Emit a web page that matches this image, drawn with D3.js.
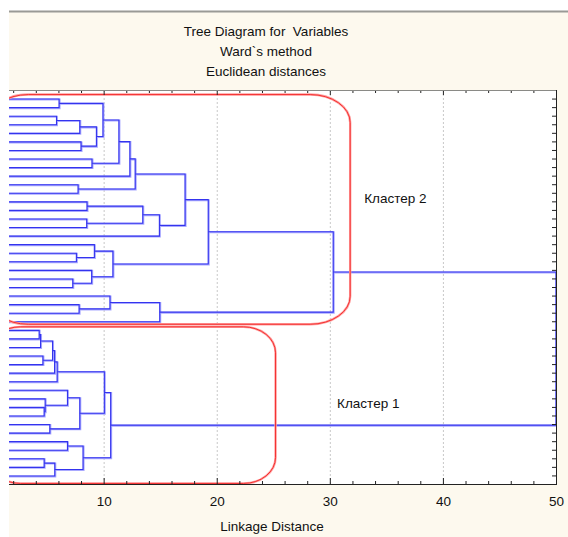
<!DOCTYPE html>
<html>
<head>
<meta charset="utf-8">
<script src="https://cdn.jsdelivr.net/npm/d3@7"></script>
<style>
  body { margin: 0; background: #fff; }
  svg { display: block; font-family: "Liberation Sans", Arial, sans-serif; }
  text { white-space: pre; }
</style>
</head>
<body>
<svg id="chart" width="568" height="537"></svg>
<script>
// leaves in display order (top to bottom)
var leafIds = ["V1","V2","V3","V4","V5","V6","V7","V8","V9","V10",
               "V11","V12","V13","V14","V15","V16","V17","V18","V19","V20",
               "V21","V22","V23","V24","V25","V26","V27","V28","V29","V30",
               "V31","V32","V33","V34","V35","V36","V37","V38","V39","V40",
               "V41","V42","V43","V44","V45"];

// merges: [child a, child b, linkage distance]; ids >= 45 refer to earlier merges
var merges = [
    [0, 1, 6.06], [2, 3, 5.83], [46, 4, 7.89], [5, 6, 8.0], [47, 48, 9.36],
    [45, 49, 9.94], [7, 8, 8.97], [50, 51, 11.35], [52, 9, 12.32], [10, 11, 7.74],
    [53, 54, 12.79], [12, 13, 8.53], [14, 15, 8.5], [56, 57, 13.46], [58, 16, 14.93],
    [55, 59, 17.2], [18, 19, 7.59], [17, 61, 9.18], [21, 22, 7.27], [20, 63, 8.94],
    [62, 64, 10.82], [60, 65, 19.25], [24, 25, 7.83], [23, 67, 10.56], [68, 26, 14.96],
    [66, 69, 30.3],
    [27, 28, 4.3], [71, 29, 4.42], [30, 31, 4.63], [72, 73, 5.48], [74, 32, 5.66],
    [75, 33, 5.89], [36, 37, 4.74], [35, 77, 4.83], [34, 78, 6.8], [38, 39, 5.24],
    [79, 80, 7.89], [76, 81, 10.06], [40, 41, 6.8], [42, 43, 4.74], [84, 44, 5.68],
    [83, 85, 8.18], [82, 86, 10.62],
    [70, 87, 50]
];

var majorTicks = [10, 20, 30, 40, 50];
var minorTicks = [2, 4, 6, 8, 12, 14, 16, 18, 22, 24, 26, 28, 32, 34, 36, 38, 42, 44, 46, 48];
var titleLines = ["Tree Diagram for  Variables", "Ward`s method", "Euclidean distances"];
var clusterLabels = ["Кластер 2", "Кластер 1"];
var xTitle = "Linkage Distance";

var svg = d3.select("#chart");
var plotLeft = 9, plotRight = 556, plotTop = 90, plotBottom = 484;
var fontSize = "13.5px";

var x = d3.scaleLinear().domain([1.63, 50]).range([plotLeft, plotRight]);
var y = d3.scalePoint().domain(leafIds).range([plotTop, plotBottom]).padding(1);

// panel
svg.append("rect").attr("x", plotLeft).attr("y", 11).attr("width", 568 - plotLeft).attr("height", 537 - 11)
    .style("fill", "#fdf9ee");
svg.append("line").attr("x1", plotLeft).attr("x2", 568).attr("y1", 11.5).attr("y2", 11.5)
    .style("stroke", "#9a9a96").style("stroke-width", 2);
svg.append("rect").attr("x", plotLeft).attr("y", plotTop)
    .attr("width", plotRight - plotLeft).attr("height", plotBottom - plotTop)
    .style("fill", "#ffffff");

svg.append("defs").append("clipPath").attr("id", "plotclip")
    .append("rect").attr("x", plotLeft).attr("y", plotTop)
    .attr("width", plotRight - plotLeft + 1).attr("height", plotBottom - plotTop);

// title
svg.selectAll("text.title").data(titleLines).enter().append("text")
    .attr("class", "title")
    .attr("x", 266)
    .attr("y", function(d, i) { return 36 + i * 20; })
    .attr("text-anchor", "middle")
    .style("font-size", fontSize)
    .style("fill", "#111")
    .text(function(d) { return d; });

// grid
svg.selectAll("line.grid").data(majorTicks.slice(0, 4)).enter().append("line")
    .attr("class", "grid")
    .attr("x1", function(d) { return x(d) + 0.5; })
    .attr("x2", function(d) { return x(d) + 0.5; })
    .attr("y1", plotTop).attr("y2", plotBottom)
    .style("stroke", "#c8c8c8").style("stroke-width", 1).style("stroke-dasharray", "2,2");

// build node positions
var nodes = leafIds.map(function(id) { return { y: y(id), h: 0 }; });
merges.forEach(function(m) {
    var a = nodes[m[0]], b = nodes[m[1]];
    nodes.push({ y: (a.y + b.y) / 2, h: m[2], a: a, b: b });
});
var links = nodes.filter(function(n) { return n.a; });

function linkPath(n) {
    return "M" + x(n.a.h) + "," + n.a.y +
           "H" + x(n.h) + "V" + n.b.y + "H" + x(n.b.h);
}

var tree = svg.append("g").attr("clip-path", "url(#plotclip)");
tree.selectAll("path.halo").data(links).enter().append("path")
    .attr("class", "halo")
    .attr("d", linkPath)
    .attr("transform", "translate(0.5,1)")
    .style("fill", "none").style("stroke", "#a9a9ff").style("stroke-width", 2);
tree.selectAll("path.link").data(links).enter().append("path")
    .attr("class", "link")
    .attr("d", linkPath)
    .attr("transform", "translate(0,0.5)")
    .style("fill", "none").style("stroke", "#3434ee").style("stroke-width", 1.1);

// cluster boxes
var boxes = [
    { x0: -0.2, x1: 31.8, first: 0, last: 26, padTop: 4, padBottom: 3, rx: 40, ry: 28 },
    { x0: -0.2, x1: 25.2, first: 27, last: 44, padTop: 3, padBottom: 8, rx: 32, ry: 26 }
];
var boxG = svg.append("g").attr("clip-path", "url(#plotclip)");
boxes.forEach(function(b) {
    var y0 = y(leafIds[b.first]) - b.padTop, y1 = y(leafIds[b.last]) + b.padBottom;
    boxG.append("rect")
        .attr("x", x(b.x0)).attr("y", y0)
        .attr("width", x(b.x1) - x(b.x0)).attr("height", y1 - y0)
        .attr("rx", b.rx).attr("ry", b.ry)
        .style("fill", "none").style("stroke", "#ffa0a0").style("stroke-width", 2.4);
    boxG.append("rect")
        .attr("x", x(b.x0)).attr("y", y0)
        .attr("width", x(b.x1) - x(b.x0)).attr("height", y1 - y0)
        .attr("rx", b.rx).attr("ry", b.ry)
        .style("fill", "none").style("stroke", "#f43030").style("stroke-width", 1);
});

// cluster labels
svg.append("text").attr("x", x(35.8)).attr("y", 203).attr("text-anchor", "middle")
    .style("font-size", fontSize).style("fill", "#111").text(clusterLabels[0]);
svg.append("text").attr("x", x(33.4)).attr("y", 408).attr("text-anchor", "middle")
    .style("font-size", fontSize).style("fill", "#111").text(clusterLabels[1]);

// axes
var axisColor = "#222";
function styleAxis(g) {
    g.select(".domain").remove();
    g.selectAll("line").style("stroke", axisColor);
}
svg.append("g").attr("transform", "translate(0," + plotBottom + ")")
    .call(d3.axisBottom(x).tickValues(majorTicks).tickSizeInner(-6).tickSizeOuter(0).tickPadding(12))
    .call(styleAxis)
    .selectAll("text").style("font-size", fontSize).style("fill", "#111")
    .style("font-family", "Liberation Sans, Arial, sans-serif");
svg.append("g").attr("transform", "translate(0," + plotBottom + ")")
    .call(d3.axisBottom(x).tickValues(minorTicks).tickSize(-3).tickFormat(""))
    .call(styleAxis);
svg.append("g").attr("transform", "translate(0," + plotTop + ")")
    .call(d3.axisTop(x).tickValues(majorTicks).tickSize(-5).tickFormat(""))
    .call(styleAxis);
svg.append("g").attr("transform", "translate(0," + plotTop + ")")
    .call(d3.axisTop(x).tickValues(minorTicks).tickSize(-3).tickFormat(""))
    .call(styleAxis);
svg.append("g").attr("transform", "translate(" + plotRight + ",0)")
    .call(d3.axisRight(y).tickSize(-4).tickFormat(""))
    .call(styleAxis);

// frame
svg.append("line").attr("x1", plotLeft).attr("x2", plotRight)
    .attr("y1", plotTop + 0.5).attr("y2", plotTop + 0.5)
    .style("stroke", "#8a8a86");
svg.append("line").attr("x1", plotLeft).attr("x2", plotRight + 1)
    .attr("y1", plotBottom + 0.5).attr("y2", plotBottom + 0.5)
    .style("stroke", axisColor);
svg.append("line").attr("x1", plotRight + 0.5).attr("x2", plotRight + 0.5)
    .attr("y1", plotTop).attr("y2", plotBottom)
    .style("stroke", axisColor);

svg.append("text").attr("x", 272).attr("y", 531).attr("text-anchor", "middle")
    .style("font-size", fontSize).style("fill", "#111").text(xTitle);
</script>
</body>
</html>
